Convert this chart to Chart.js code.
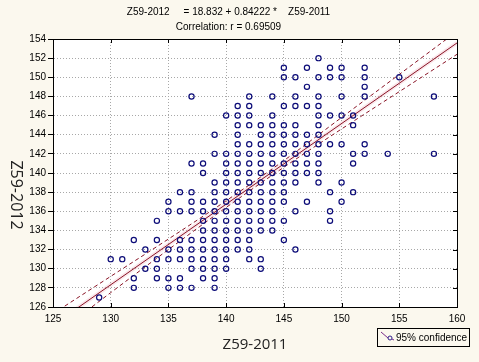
<!DOCTYPE html>
<html>
<head>
<meta charset="utf-8">
<script src="https://cdn.jsdelivr.net/npm/chart.js@4.4.0/dist/chart.umd.min.js"></script>
<style>
  html, body { margin: 0; padding: 0; background: #fbf8ee; }
  #wrap { position: relative; width: 479px; height: 362px; }
</style>
</head>
<body>
<div id="wrap"><canvas id="chart" width="479" height="362"></canvas></div>
<script>
// observed (x, y) pairs, one row per Z59-2012 value
const rowY = [152, 151, 150, 149, 148, 147, 146, 145, 144, 143, 142, 141, 140,
              139, 138, 137, 136, 135, 134, 133, 132, 131, 130, 129, 128, 127];
const rowX = [
    [148],
    [145, 147, 149, 150, 152],
    [145, 146, 148, 149, 150, 152, 155],
    [147, 152],
    [137, 142, 144, 146, 148, 150, 152, 158],
    [141, 142, 145, 146, 147, 148],
    [140, 141, 142, 144, 148, 149, 150, 151],
    [141, 142, 143, 144, 145, 146, 148, 151],
    [139, 141, 143, 144, 145, 146, 147, 148],
    [141, 142, 143, 144, 145, 146, 147, 148, 149, 150, 152],
    [139, 140, 141, 142, 143, 144, 145, 146, 147, 148, 151, 152, 154, 158],
    [137, 138, 140, 141, 142, 143, 144, 145, 146, 147, 148, 151],
    [138, 140, 141, 142, 143, 144, 145, 146, 147, 148],
    [139, 140, 141, 142, 143, 144, 145, 146, 148, 150],
    [136, 137, 139, 140, 141, 142, 143, 144, 145, 149, 151],
    [135, 137, 138, 139, 140, 141, 142, 143, 144, 145, 147, 150],
    [135, 136, 137, 138, 139, 140, 141, 142, 143, 144, 146, 149],
    [134, 138, 139, 140, 141, 142, 143, 144, 145, 149],
    [138, 139, 140, 141, 142, 143, 144],
    [132, 134, 136, 137, 138, 139, 140, 141, 142, 145],
    [133, 135, 136, 137, 138, 139, 140, 141, 142, 146],
    [130, 131, 134, 135, 136, 137, 138, 139, 140, 142, 143],
    [133, 134, 137, 138, 139, 140, 143],
    [132, 134, 135, 136, 138, 139],
    [132, 135, 136, 137, 139],
    [129],
];

// fitted line  y = 18.832 + 0.84222 x
const regX = [125, 160];
const regY = [124.11, 153.59];

// 95% confidence bands
const bandX     = [125, 130, 135, 140, 145, 150, 155, 160];
const bandUpper = [125.3, 129.2, 133.1, 137.1, 141.3, 145.8, 150.3, 154.8];
const bandLower = [122.9, 127.5, 132.0, 136.4, 140.6, 144.6, 148.5, 152.4];

const titleLines = [
    "Z59-2012     = 18.832 + 0.84222 *    Z59-2011",
    "Correlation: r = 0.69509",
];

const BG = "#fbf8ee";
const RED = "#8a1426";

const points = [];
rowY.forEach((y, i) => rowX[i].forEach(x => points.push({ x, y })));

const toXY = (xs, ys) => xs.map((x, i) => ({ x, y: ys[i] }));

// background, white plot area, frame, inward ticks, y title, legend
const decor = {
    id: "decor",
    beforeDraw(chart) {
        const { ctx, chartArea: a } = chart;
        ctx.save();
        ctx.fillStyle = BG;
        ctx.fillRect(0, 0, chart.width, chart.height);
        ctx.fillStyle = "#ffffff";
        ctx.fillRect(a.left, a.top, a.right - a.left, a.bottom - a.top);
        ctx.restore();
    },
    afterDraw(chart) {
        const { ctx, chartArea: a, scales } = chart;
        ctx.save();
        ctx.strokeStyle = "#000";
        ctx.lineWidth = 1;
        ctx.strokeRect(a.left + 0.5, a.top + 0.5, a.right - a.left, a.bottom - a.top);

        ctx.beginPath();
        scales.x.ticks.forEach(t => {
            const px = Math.round(scales.x.getPixelForValue(t.value)) + 0.5;
            ctx.moveTo(px, a.bottom); ctx.lineTo(px, a.bottom - 4);
            ctx.moveTo(px, a.top); ctx.lineTo(px, a.top + 4);
        });
        scales.y.ticks.forEach(t => {
            const py = Math.round(scales.y.getPixelForValue(t.value)) + 0.5;
            ctx.moveTo(a.right, py); ctx.lineTo(a.right - 4, py);
        });
        ctx.stroke();

        // y axis title, reading top to bottom
        ctx.translate(16, 195);
        ctx.rotate(Math.PI / 2);
        ctx.fillStyle = "#222";
        ctx.font = "16px 'Open Sans'";
        ctx.textAlign = "center";
        ctx.textBaseline = "middle";
        ctx.fillText("Z59-2012", 0, 0);
        ctx.setTransform(1, 0, 0, 1, 0, 0);

        // legend
        ctx.fillStyle = BG;
        ctx.fillRect(377.5, 328.5, 92, 18);
        ctx.strokeStyle = "#000";
        ctx.strokeRect(377.5, 328.5, 92, 18);
        ctx.strokeStyle = "#7a2a8a";
        ctx.beginPath();
        ctx.moveTo(381, 332); ctx.lineTo(388, 338);
        ctx.moveTo(392, 339); ctx.lineTo(394, 340);
        ctx.stroke();
        ctx.strokeStyle = "#30208a";
        ctx.beginPath();
        ctx.arc(390, 338, 2, 0, Math.PI * 2);
        ctx.stroke();
        ctx.fillStyle = "#000";
        ctx.font = "10px 'Liberation Sans'";
        ctx.textAlign = "left";
        ctx.textBaseline = "alphabetic";
        ctx.fillText("95% confidence", 396, 341);
        ctx.restore();
    },
};

new Chart(document.getElementById("chart"), {
    type: "scatter",
    data: {
        datasets: [
            {
                label: "Z59-2012",
                data: points,
                pointStyle: "circle",
                pointRadius: 2.6,
                pointBorderWidth: 1.2,
                borderColor: "#0c0c78",
                backgroundColor: "rgba(0,0,0,0)",
                showLine: false,
                order: 1,
            },
            {
                type: "line",
                label: "fit halo",
                data: toXY(regX, regY),
                borderColor: "rgba(235,160,175,0.25)",
                borderWidth: 4,
                pointRadius: 0,
                order: 3,
            },
            {
                type: "line",
                label: "fit",
                data: toXY(regX, regY),
                borderColor: RED,
                borderWidth: 1,
                pointRadius: 0,
                order: 2,
            },
            {
                type: "line",
                label: "95% confidence",
                data: toXY(bandX, bandUpper),
                borderColor: RED,
                borderWidth: 1,
                borderDash: [4, 3],
                cubicInterpolationMode: "monotone",
                pointRadius: 0,
                order: 2,
            },
            {
                type: "line",
                label: "95% confidence lower",
                data: toXY(bandX, bandLower),
                borderColor: RED,
                borderWidth: 1,
                borderDash: [4, 3],
                cubicInterpolationMode: "monotone",
                pointRadius: 0,
                order: 2,
            },
        ],
    },
    options: {
        responsive: false,
        animation: false,
        layout: { padding: { left: 0, right: 22, top: 0, bottom: 0 } },
        plugins: {
            legend: { display: false },
            tooltip: { enabled: false },
            title: {
                display: true,
                text: titleLines,
                color: "#000",
                font: { family: "'Liberation Sans'", size: 10, weight: "normal", lineHeight: 1.5 },
                padding: { top: 5, bottom: 4 },
            },
        },
        scales: {
            x: {
                type: "linear",
                min: 125,
                max: 160,
                afterFit: (s) => { s.height = 55; },
                ticks: {
                    stepSize: 5,
                    color: "#000",
                    padding: 6,
                    font: { family: "'Liberation Sans'", size: 10 },
                },
                grid: { color: "#a8a8a8", drawTicks: false },
                border: { color: "#000", width: 1, dash: [1, 2] },
                title: {
                    display: true,
                    text: "Z59-2011",
                    color: "#222",
                    font: { family: "'Open Sans'", size: 15 },
                    padding: { top: 0, bottom: 8 },
                },
            },
            y: {
                min: 126,
                max: 154,
                afterFit: (s) => { s.width = 53; },
                ticks: {
                    stepSize: 2,
                    color: "#000",
                    padding: 2,
                    font: { family: "'Liberation Sans'", size: 10 },
                },
                grid: {
                    color: "#a8a8a8",
                    tickLength: 5,
                    tickColor: "#000",
                    tickBorderDash: [],
                },
                border: { color: "#000", width: 1, dash: [1, 2] },
            },
        },
    },
    plugins: [decor],
});
</script>
</body>
</html>
